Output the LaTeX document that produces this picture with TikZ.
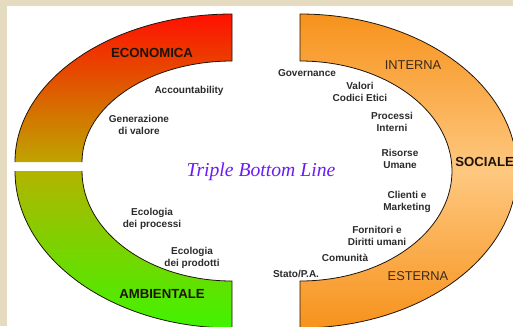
\documentclass[tikz,border=0pt]{standalone}
\usepackage{fontspec}
\setmainfont{Liberation Sans}
\newfontfamily\tblfont{Liberation Serif}
\definecolor{Framecol}{HTML}{E4DBC0}
\definecolor{Redcol}{HTML}{FF1000}
\definecolor{Olivecol}{HTML}{BFA400}
\definecolor{Greentop}{HTML}{B2B400}
\definecolor{Greenbot}{HTML}{40F400}
\definecolor{Orangecol}{HTML}{F7921C}
\definecolor{Orangemid}{HTML}{FEC880}
\definecolor{Textcol}{HTML}{2B2B2B}
\definecolor{Headcol}{HTML}{1E140A}
\definecolor{Sidecol}{HTML}{3C2A18}
\definecolor{TBLcol}{HTML}{6A1CF6}
\tikzset{
    band/.style={draw=none},
    rim/.style={draw=Headcol, line width=0.45pt},
    item/.style={font=\bfseries\fontsize{5.7}{6.8}\selectfont, text=Textcol, align=center, inner sep=0pt},
    head/.style={font=\bfseries\fontsize{7.5}{8}\selectfont, text=Headcol, inner sep=0pt},
    side/.style={font=\fontsize{7.3}{8}\selectfont, text=Sidecol, inner sep=0pt}
}

\begin{document}
\begin{tikzpicture}[x=0.02cm, y=0.02cm]
    \useasboundingbox (0,0) rectangle (513,326);
    \clip (0,0) rectangle (513,326);

    % frame
    \fill[Framecol] (0,0) rectangle (513,326);
    \fill[white] (7,0) rectangle (513,320);

    % Economica: upper left quarter
    \begin{scope}[shift={(232,164)}]
        \shade[band, top color=Redcol, bottom color=Olivecol]
            (-217,0) arc[start angle=180, end angle=90, x radius=217, y radius=148]
            -- (0,101) arc[start angle=90, end angle=180, x radius=150, y radius=101] -- cycle;
        \draw[rim] (-217,0) arc[start angle=180, end angle=90, x radius=217, y radius=148]
            -- (0,101) arc[start angle=90, end angle=180, x radius=150, y radius=101];
    \end{scope}

    % Ambientale: lower left quarter
    \begin{scope}[shift={(232,155)}]
        \shade[band, top color=Greentop, bottom color=Greenbot]
            (-217,0) arc[start angle=180, end angle=270, x radius=217, y radius=157]
            -- (0,-110) arc[start angle=270, end angle=180, x radius=150, y radius=110] -- cycle;
        \draw[rim] (-217,0) arc[start angle=180, end angle=270, x radius=217, y radius=157]
            -- (0,-110) arc[start angle=270, end angle=180, x radius=150, y radius=110];
    \end{scope}

    % Sociale: right half
    \begin{scope}[shift={(300,155)}]
        \shade[band, top color=Orangecol, bottom color=Orangecol, middle color=Orangemid, rim]
            (0,157) arc[start angle=90, end angle=-90, x radius=217, y radius=157]
            -- (0,-110) arc[start angle=-90, end angle=90, x radius=152, y radius=110] -- cycle;
    \end{scope}

    % headings
    \node[head] (eco) at (152,273) {ECONOMICA};
    \node[head] (amb) at (162,32) {AMBIENTALE};
    \node[head, anchor=west] (soc) at (455,164) {SOCIALE};
    \node[side] (int) at (413,261) {INTERNA};
    \node[side] (est) at (418,50) {ESTERNA};

    \node[font=\tblfont\itshape\fontsize{11.2}{12}\selectfont, text=TBLcol] (tbl) at (261,154) {Triple Bottom Line};

    % economic items
    \node[item] (acc) at (189,235) {Accountability};
    \node[item] (gen) at (139,201) {Generazione\\di valore};

    % environmental items
    \node[item] (ecp) at (152,107) {Ecologia\\dei processi};
    \node[item] (ecd) at (192,68) {Ecologia\\dei prodotti};

    % social items
    \node[item] (gov) at (307,253) {Governance};
    \node[item] (val) at (360,234) {Valori\\Codici Etici};
    \node[item] (pro) at (392,204) {Processi\\Interni};
    \node[item] (ris) at (400,167) {Risorse\\Umane};
    \node[item] (cli) at (407,124) {Clienti e\\Marketing};
    \node[item] (for) at (377,90) {Fornitori e\\Diritti umani};
    \node[item] (com) at (345,68) {Comunità};
    \node[item] (sta) at (296,52) {Stato/P.A.};
\end{tikzpicture}
\end{document}
